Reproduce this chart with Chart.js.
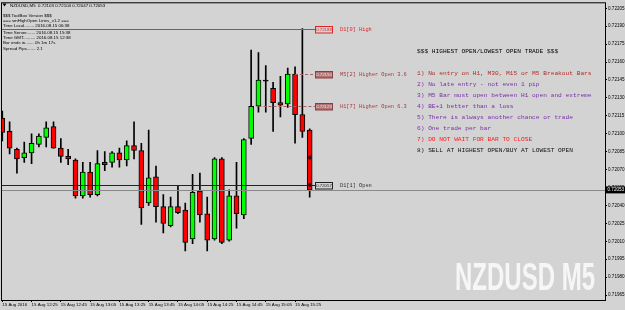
<!DOCTYPE html>
<html>
<head>
<meta charset="utf-8">
<script src="https://cdn.jsdelivr.net/npm/chart.js@4.4.1/dist/chart.umd.min.js"></script>
<style>
  html, body { margin: 0; padding: 0; background: #d3d3d3; }
  canvas { display: block; }
</style>
</head>
<body>
<canvas id="myChart" width="625" height="310"></canvas>
<script>
// NZDUSD M5, 15 Aug 2016, bars from 12:05 to 15:35
var opens  = [0.72113, 0.72102, 0.72087, 0.72080, 0.72084, 0.72091, 0.72097, 0.72106, 0.72088, 0.72081,
              0.72078, 0.72048, 0.72068, 0.72049, 0.72076, 0.72076, 0.72084, 0.72078, 0.72090, 0.72086,
              0.72042, 0.72064, 0.72039, 0.72023, 0.72039, 0.72036, 0.72012, 0.72052, 0.72033, 0.72012,
              0.72079, 0.72011, 0.72048, 0.72032, 0.72096, 0.72123, 0.72144, 0.72138, 0.72126, 0.72125,
              0.72150, 0.72116, 0.72103];
var highs  = [0.72119, 0.72110, 0.72088, 0.72093, 0.72100, 0.72100, 0.72110, 0.72110, 0.72096, 0.72087,
              0.72079, 0.72076, 0.72076, 0.72086, 0.72085, 0.72085, 0.72088, 0.72094, 0.72110, 0.72092,
              0.72103, 0.72073, 0.72049, 0.72047, 0.72056, 0.72042, 0.72066, 0.72067, 0.72047, 0.72080,
              0.72080, 0.72053, 0.72076, 0.72096, 0.72170, 0.72168, 0.72157, 0.72143, 0.72148, 0.72155,
              0.72156, 0.72188, 0.72104];
var lows   = [0.72094, 0.72083, 0.72067, 0.72076, 0.72075, 0.72089, 0.72089, 0.72088, 0.72076, 0.72074,
              0.72046, 0.72046, 0.72047, 0.72048, 0.72069, 0.72072, 0.72072, 0.72073, 0.72079, 0.72024,
              0.72040, 0.72026, 0.72017, 0.72022, 0.72033, 0.72002, 0.72008, 0.72026, 0.72002, 0.72011,
              0.72008, 0.72010, 0.72021, 0.72029, 0.72091, 0.72118, 0.72118, 0.72102, 0.72114, 0.72122,
              0.72092, 0.72097, 0.72047];
var closes = [0.72101, 0.72088, 0.72079, 0.72084, 0.72092, 0.72098, 0.72105, 0.72088, 0.72081, 0.72079,
              0.72048, 0.72068, 0.72049, 0.72075, 0.72074, 0.72084, 0.72078, 0.72090, 0.72086, 0.72038,
              0.72063, 0.72039, 0.72025, 0.72039, 0.72034, 0.72009, 0.72051, 0.72032, 0.72011, 0.72079,
              0.72009, 0.72048, 0.72033, 0.72095, 0.72123, 0.72145, 0.72144, 0.72126, 0.72124, 0.72150,
              0.72116, 0.72102, 0.72053];

var tickBars   = [0, 4, 8, 12, 16, 20, 24, 28, 32, 36, 40];
var tickLabels = ['15 Aug 2016', '15 Aug 12:25', '15 Aug 12:45', '15 Aug 13:05', '15 Aug 13:25', '15 Aug 13:45',
                  '15 Aug 14:05', '15 Aug 14:25', '15 Aug 14:45', '15 Aug 15:05', '15 Aug 15:25'];
var priceTicks = [0.71965, 0.71980, 0.71995, 0.72010, 0.72025, 0.72040, 0.72055, 0.72070, 0.72085,
                  0.72100, 0.72115, 0.72130, 0.72145, 0.72160, 0.72175, 0.72190, 0.72205];

var levelPrices = [0.72188, 0.72150, 0.72123, 0.72057];
var levelNames  = ['D1[0] High', 'M5[2] Higher Open 3.6', 'H1[7] Higher Open 6.3', 'D1[1] Open'];
var levelFromBar = [null, 40, 35, null];

var infoLines = ['$$$ ToolBox Version $$$', '=== smHighOpen Lines_v1.2 ===', 'Time Local........ 2016.08.15 06:38',
                 'Time Server....... 2016.08.15 15:38', 'Time GMT.......... 2016.08.15 12:38',
                 'Bar ends in....... 0h 1m 17s', 'Spread Pips....... 2.1'];
var rulesTitle = '$$$ HIGHEST OPEN/LOWEST OPEN TRADE $$$';
var rules = ['1) No entry on H1, M30, M15 or M5 Breakout Bars', '2) No late entry - not even 1 pip',
             '3) M5 Bar must open between H1 open and extreme', '4) BE+1 better than a loss',
             '5) There is always another chance or trade', '6) One trade per bar',
             '7) DO NOT WAIT FOR BAR TO CLOSE', '8) SELL AT HIGHEST OPEN/BUY AT LOWEST OPEN'];

var BG = '#d3d3d3';
var last = closes.length - 1;

var idx = opens.map(function (o, i) { return i; });
var wickData = idx.map(function (i) { return { x: i, y: [lows[i], highs[i]] }; });
var bodyData = idx.map(function (i) { return { x: i, y: [opens[i], closes[i]] }; });
var bodyColors = idx.map(function (i) {
	if (closes[i] > opens[i]) return '#00ff00';
	if (closes[i] < opens[i]) return '#ff0000';
	return '#000000';
});

var bgPlugin = {
	id: 'bg',
	beforeDraw: function (chart) {
		var c = chart.ctx;
		c.save();
		c.fillStyle = BG;
		c.fillRect(0, 0, chart.width, chart.height);
		// watermark
		c.font = 'bold 39px "Liberation Sans Narrow", "Liberation Sans"';
		c.fillStyle = '#f6f6f6';
		c.textBaseline = 'alphabetic';
		var w = c.measureText('NZDUSD M5').width;
		c.translate(455, 290);
		c.scale(140 / w, 1);
		c.fillText('NZDUSD M5', 0, 0);
		c.restore();
	}
};

function boxLabel (c, x, y, text, stroke, fill, color) {
	c.fillStyle = fill;
	c.fillRect(x, y - 3.5, 18, 7);
	c.strokeStyle = stroke;
	c.lineWidth = 1;
	c.strokeRect(x + 0.5, y - 3, 17, 6.5);
	c.fillStyle = color;
	c.font = '4.3px "Liberation Sans"';
	c.textAlign = 'center';
	c.textBaseline = 'middle';
	c.fillText(text, x + 9, y + 0.3);
}

var levelsPlugin = {
	id: 'levels',
	afterDatasetsDraw: function (chart) {
		var c = chart.ctx, ys = chart.scales.y, xs = chart.scales.x, a = chart.chartArea;
		var lineColors = ['#ee2a36', '#a86060', '#a86060', '#222222'];
		var textColors = ['#e02424', '#a83838', '#a83838', '#303030'];
		c.save();
		// bid line
		var bid = Math.round(ys.getPixelForValue(closes[last])) + 0.5;
		c.strokeStyle = '#8a8a8a';
		c.lineWidth = 1;
		c.beginPath(); c.moveTo(a.left, bid); c.lineTo(a.right, bid); c.stroke();

		levelPrices.forEach(function (p, k) {
			var y = Math.round(ys.getPixelForValue(p)) + 0.5;
			var x0 = levelFromBar[k] === null ? a.left : xs.getPixelForValue(levelFromBar[k]);
			c.strokeStyle = lineColors[k];
			c.setLineDash(levelFromBar[k] === null ? [] : [3, 2]);
			c.beginPath(); c.moveTo(x0, y); c.lineTo(315, y); c.stroke();
			c.setLineDash([]);
			if (k === 0) boxLabel(c, 315, y, p.toFixed(5), '#e02424', BG, '#e02424');
			else if (k === 3) boxLabel(c, 315, y, p.toFixed(5), '#222', BG, '#222');
			else boxLabel(c, 315, y, p.toFixed(5), '#8a4040', '#b07272', '#f4e4e4');
			c.fillStyle = textColors[k];
			c.font = '5.3px "Liberation Mono"';
			c.textAlign = 'left';
			c.textBaseline = 'middle';
			c.fillText(levelNames[k], 340, y);
		});

		// marks on current bar
		c.fillStyle = '#000';
		var cx = xs.getPixelForValue(last);
		[0.72080, 0.72057].forEach(function (p) {
			var yy = ys.getPixelForValue(p);
			c.beginPath(); c.ellipse(cx, yy, 1.3, 2, 0, 0, Math.PI * 2); c.fill();
		});
		c.restore();
	},
	afterDraw: function (chart) {
		var c = chart.ctx, a = chart.chartArea, ys = chart.scales.y;
		c.save();
		// frame
		c.strokeStyle = '#000';
		c.lineWidth = 1;
		c.strokeRect(a.left - 0.5, a.top - 0.5, a.right - a.left + 1, a.bottom - a.top + 1);

		// price label on axis
		var py = ys.getPixelForValue(closes[last]);
		c.fillStyle = '#000';
		c.fillRect(606, py - 3.5, 19, 7);
		c.fillStyle = '#fff';
		c.font = '4.6px "Liberation Sans"';
		c.textAlign = 'left';
		c.textBaseline = 'middle';
		c.fillText(closes[last].toFixed(5), 607.5, py + 0.3);

		// info block
		c.fillStyle = '#000';
		c.beginPath(); c.moveTo(2.5, 3.5); c.lineTo(6.5, 3.5); c.lineTo(4.5, 6.5); c.closePath(); c.fill();
		c.font = '4.4px "Liberation Sans"';
		c.fillText('NZDUSD,M5  ' + [opens[last], highs[last], lows[last], closes[last]].map(function (v) { return v.toFixed(5); }).join(' '), 10, 5.5);
		var infoY = [16, 21, 26, 33, 38, 43, 49];
		infoLines.forEach(function (t, k) { c.fillText(t, 3, infoY[k]); });

		// rules
		c.font = '6.2px "Liberation Mono"';
		c.fillStyle = '#000';
		c.fillText(rulesTitle, 417, 51);
		var ruleColors = ['#b02a2a', '#7a2ea8', '#7a2ea8', '#7a2ea8', '#7a2ea8', '#7a2ea8', '#ff1a1a', '#111'];
		rules.forEach(function (t, k) {
			c.fillStyle = ruleColors[k];
			c.fillText(t, 417, 73 + k * 11);
		});
		c.restore();
	}
};

var ctx = document.getElementById('myChart');

window.myChart = new Chart(ctx, {
	type: 'bar',
	data: {
		datasets: [
			{
				label: 'body',
				data: bodyData,
				backgroundColor: bodyColors,
				borderColor: '#000',
				borderWidth: 1,
				borderSkipped: false,
				barThickness: 5,
				minBarLength: 1,
				grouped: false
			},
			{
				label: 'wick',
				data: wickData,
				backgroundColor: '#000',
				borderWidth: 0,
				barThickness: 1,
				grouped: false
			}
		]
	},
	options: {
		responsive: false,
		animation: false,
		events: [],
		layout: { padding: { left: 2, top: 2, right: 0, bottom: 0 } },
		plugins: { legend: { display: false }, tooltip: { enabled: false } },
		scales: {
			x: {
				type: 'linear',
				offset: false,
				min: -0.04,
				max: 82.35,
				afterBuildTicks: function (scale) {
					scale.ticks = tickBars.map(function (v) { return { value: v }; });
				},
				afterFit: function (scale) { scale.height = 10; },
				grid: { drawOnChartArea: false, offset: false, tickLength: 2, color: '#000' },
				border: { display: false },
				ticks: {
					autoSkip: false,
					maxRotation: 0,
					align: 'start',
					padding: 1,
					color: '#000',
					font: { family: 'Liberation Sans', size: 4.4, lineHeight: 1 },
					callback: function (v) {
						var k = tickBars.indexOf(v);
						return k >= 0 ? tickLabels[k] : '';
					}
				}
			},
			y: {
				position: 'right',
				min: 0.7196083,
				max: 0.7220917,
				afterBuildTicks: function (scale) {
					scale.ticks = priceTicks.map(function (v) { return { value: v }; });
				},
				afterFit: function (scale) { scale.width = 20; },
				grid: { drawOnChartArea: false, tickLength: 2, color: '#000' },
				border: { display: false },
				ticks: {
					padding: 1,
					color: '#000',
					font: { family: 'Liberation Sans', size: 4.6, lineHeight: 1 },
					callback: function (v) { return v.toFixed(5); }
				}
			}
		}
	},
	plugins: [bgPlugin, levelsPlugin]
});
</script>
</body>
</html>
